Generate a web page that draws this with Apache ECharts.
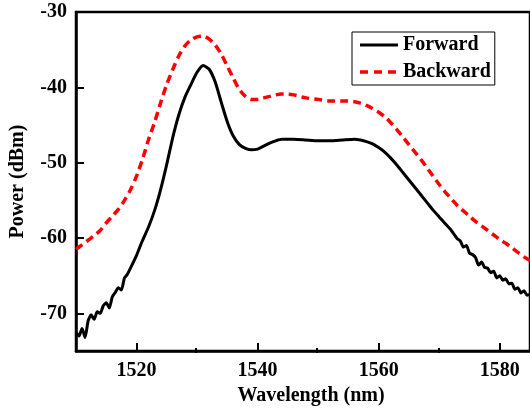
<!DOCTYPE html>
<html>
<head>
<meta charset="utf-8">
<script src="https://cdn.jsdelivr.net/npm/echarts@6/dist/echarts.min.js"></script>
<style>html,body{margin:0;padding:0;background:#fff;}#c{width:530px;height:411px;}</style>
</head>
<body>
<div id="c"></div>
<script>
// Wavelength (nm) and power (dBm)
const forwardX = [1510,1510.5,1511,1511.5,1512,1512.5,1513,1513.5,1514,1514.5,1515,1515.5,1516,1516.5,1517,1517.5,1518,1518.5,1519,1520,1521,1522,1523,1524,1525,1526,1527,1528,1529,1530,1531,1532,1533,1534,1535,1536,1537,1538,1539,1540,1541,1542,1543,1544,1546,1548,1550,1552,1554,1556,1557,1558,1559,1560,1561,1562,1563,1564,1565,1566,1567,1568,1569,1570,1571,1572,1573,1573.5,1574,1574.5,1575,1575.5,1576,1576.5,1577,1577.5,1578,1578.5,1579,1579.5,1580,1580.5,1581,1581.5,1582,1582.5,1583,1583.5,1584,1584.5,1585];
const forwardY = [-72.5,-73.0,-72.0,-73.2,-71.0,-70.2,-70.8,-69.8,-70.0,-69.0,-68.6,-69.3,-67.8,-67.2,-66.6,-66.9,-65.3,-64.8,-64.0,-62.3,-60.3,-58.5,-56.3,-53.5,-50.2,-46.6,-43.6,-41.3,-39.6,-38.0,-37.1,-37.6,-39.3,-42.0,-44.6,-46.5,-47.6,-48.1,-48.3,-48.2,-47.8,-47.4,-47.1,-46.9,-46.9,-47.0,-47.1,-47.1,-47.0,-46.9,-47.0,-47.2,-47.5,-48.0,-48.6,-49.4,-50.3,-51.3,-52.3,-53.3,-54.3,-55.3,-56.3,-57.2,-58.1,-59.0,-60.1,-60.4,-61.2,-61.0,-62.0,-62.2,-62.6,-63.6,-63.2,-63.9,-64.0,-64.6,-64.4,-65.3,-65.0,-65.6,-65.4,-66.1,-66.0,-66.8,-66.6,-67.3,-67.0,-67.6,-67.5];
const backwardX = [1510,1511,1512,1513,1514,1515,1516,1517,1518,1519,1520,1521,1522,1523,1524,1525,1526,1527,1528,1529,1530,1531,1532,1533,1534,1535,1536,1537,1538,1539,1540,1541,1542,1543,1544,1545,1546,1548,1550,1552,1554,1556,1557,1558,1559,1560,1561,1562,1563,1564,1565,1566,1567,1568,1569,1570,1571,1572,1573,1574,1575,1576,1577,1578,1579,1580,1581,1582,1583,1584,1585];
const backwardY = [-61.5,-60.9,-60.3,-59.7,-59.0,-58.0,-57.1,-56.2,-55.0,-53.6,-51.8,-49.5,-46.9,-44.6,-42.0,-39.6,-37.6,-35.8,-34.5,-33.7,-33.3,-33.2,-33.6,-34.4,-35.6,-37.2,-38.8,-40.3,-41.2,-41.6,-41.6,-41.4,-41.2,-41.0,-40.9,-40.9,-41.0,-41.4,-41.6,-41.8,-41.8,-41.9,-42.1,-42.4,-42.8,-43.3,-43.9,-44.7,-45.6,-46.6,-47.6,-48.6,-49.6,-50.7,-51.8,-52.9,-53.9,-54.8,-55.7,-56.4,-57.1,-57.8,-58.4,-59.0,-59.6,-60.2,-60.7,-61.3,-61.9,-62.5,-63.0];
const seriesNames = ['Forward', 'Backward'];
const xMajorTicks = [1520, 1540, 1560, 1580];
const xMinorTicks = [1530, 1550, 1570];
const yTicks = [-70, -60, -50, -40, -30];

const font = '"Liberation Serif", "Times New Roman", serif';
const gridRect = {left: 74, top: 12, right: -5, bottom: 58};
const solidIcon = 'path://M0,0h38v3.2h-38z';
const dashIcon = 'path://M0,0h8v3.6h-8z M14,0h8v3.6h-8z M28,0h8v3.6h-8z M37.9,0h0.1v3.6h-0.1z';
const chart = echarts.init(document.getElementById('c'), null, {renderer: 'canvas'});
chart.setOption({
  animation: false,
  backgroundColor: '#fff',
  grid: [
    Object.assign({show: true, borderColor: '#000', borderWidth: 2.5, containLabel: false}, gridRect),
    Object.assign({show: false, containLabel: false}, gridRect)
  ],
  legend: {
    left: 352, top: 32, orient: 'vertical',
    borderColor: '#000', borderWidth: 1,
    padding: [3, 4, 3, 8],
    itemWidth: 38, itemHeight: 14, itemGap: 7,
    symbolKeepAspect: true,
    textStyle: {fontFamily: font, fontWeight: 'bold', fontSize: 20, color: '#000', lineHeight: 20},
    data: [{name: seriesNames[0], icon: solidIcon}, {name: seriesNames[1], icon: dashIcon}]
  },
  xAxis: [{
    gridIndex: 0, type: 'value', min: 1510, max: 1585,
    name: 'Wavelength (nm)', nameLocation: 'middle', nameGap: 35,
    nameTextStyle: {fontFamily: font, fontWeight: 'bold', fontSize: 20, color: '#000', padding: [0, 0, 0, 16]},
    axisLine: {show: true, lineStyle: {color: '#000', width: 2.5}},
    axisTick: {show: true, inside: true, length: 8, lineStyle: {color: '#000', width: 2}, customValues: xMajorTicks},
    axisLabel: {fontFamily: font, fontWeight: 'bold', fontSize: 20, color: '#000', margin: 10, customValues: xMajorTicks,
      formatter: v => String(v)},
    splitLine: {show: false}
  }, {
    gridIndex: 1, type: 'value', min: 1510, max: 1585,
    axisLine: {show: false},
    axisTick: {show: true, inside: true, length: 5, lineStyle: {color: '#000', width: 2}, customValues: xMinorTicks},
    axisLabel: {show: false},
    splitLine: {show: false}
  }],
  yAxis: [{
    gridIndex: 0, type: 'value', min: -75, max: -30,
    name: 'Power (dBm)', nameLocation: 'middle', nameGap: 48, nameRotate: 90,
    nameTextStyle: {fontFamily: font, fontWeight: 'bold', fontSize: 20, color: '#000'},
    axisLine: {show: true, lineStyle: {color: '#000', width: 2.5}},
    axisTick: {show: true, inside: true, length: 8, lineStyle: {color: '#000', width: 2}, customValues: yTicks},
    axisLabel: {fontFamily: font, fontWeight: 'bold', fontSize: 20, color: '#000', margin: 9, customValues: yTicks,
      formatter: v => String(v)},
    splitLine: {show: false}
  }, {
    gridIndex: 1, type: 'value', min: -75, max: -30, show: false
  }],
  series: [{
    name: seriesNames[0], type: 'line', xAxisIndex: 0, yAxisIndex: 0,
    data: forwardX.map((x, i) => [x, forwardY[i]]),
    showSymbol: false, symbol: 'none', smooth: 0.2,
    lineStyle: {color: '#000', width: 3},
    itemStyle: {color: '#000'}
  }, {
    name: seriesNames[1], type: 'line', xAxisIndex: 0, yAxisIndex: 0,
    data: backwardX.map((x, i) => [x, backwardY[i]]),
    showSymbol: false, symbol: 'none', smooth: 0.3,
    lineStyle: {color: '#ff0000', width: 3.5, type: [8, 5]},
    itemStyle: {color: '#ff0000'}
  }]
});
</script>
</body>
</html>
